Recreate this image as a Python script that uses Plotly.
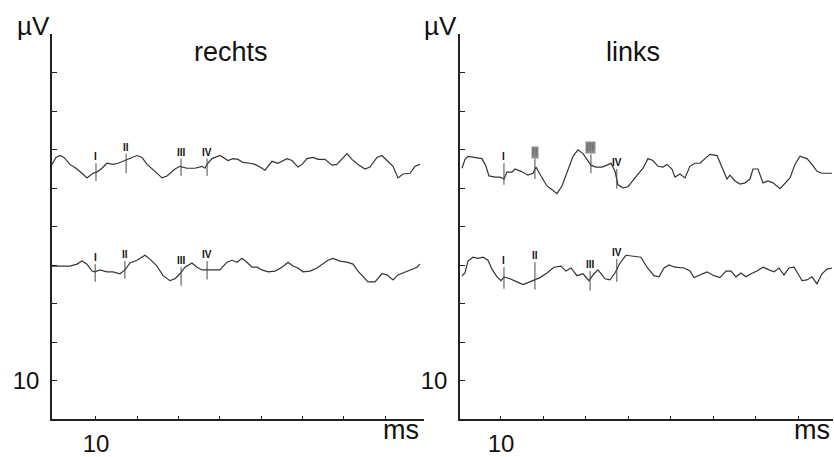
import plotly.graph_objects as go

# ---------------------------------------------------------------
# Evoked potential recordings, time in ms, amplitude in µV
# ---------------------------------------------------------------

# rechts, upper recording
r1_t = [-0.65, 0.31, 1.28, 2.25, 3.70, 5.16, 6.61, 7.82, 9.27, 10.24, 11.45, 12.66, 14.12,
        15.33, 17.02, 18.23, 19.93, 21.14, 22.35, 24.29, 25.98, 27.19, 29.13, 30.34, 32.03,
        33.97, 35.67, 36.39, 36.88, 38.09, 40.02, 41.96, 43.17, 44.38, 45.59, 47.29, 48.50,
        49.71, 50.92, 51.65, 52.62, 54.07, 56.25, 57.46, 58.91, 59.88, 61.09, 62.54, 63.75,
        65.45, 67.14, 68.35, 69.56, 70.77, 71.99, 73.44, 75.13, 76.34, 78.04, 79.25, 80.46,
        81.91, 83.12, 84.33, 86.03, 87.24, 88.45]
r1_uv = [66.2, 68.0, 68.5, 68.0, 66.2, 65.2, 63.9, 62.7, 63.9, 64.2, 65.2, 66.5, 66.2,
         66.5, 67.2, 67.7, 68.5, 68.0, 66.2, 64.4, 62.7, 63.2, 65.0, 65.7, 65.2,
         65.2, 65.7, 65.2, 66.2, 67.7, 68.5, 67.2, 67.7, 67.5, 66.7, 66.5, 66.2,
         65.5, 64.7, 65.7, 67.0, 66.5, 67.7, 67.2, 65.5, 66.2, 67.7, 68.0, 67.5,
         67.5, 66.0, 66.2, 67.7, 69.0, 67.5, 66.2, 65.0, 65.5, 68.0, 68.5, 67.2,
         65.7, 62.7, 63.7, 63.9, 65.7, 66.2]

# rechts, lower recording
r2_t = [-0.65, 1.28, 3.70, 5.40, 6.61, 7.82, 9.03, 9.76, 10.97, 12.66, 14.12, 15.81, 17.02,
        18.23, 19.93, 21.86, 23.08, 24.77, 26.22, 27.92, 29.13, 30.34, 31.55, 33.24, 34.46,
        35.67, 36.88, 38.33, 40.02, 41.72, 42.93, 44.14, 45.35, 46.56, 47.77, 48.98, 50.19,
        51.65, 53.34, 55.04, 56.49, 57.70, 58.91, 60.12, 61.82, 63.51, 64.96, 66.17, 67.38,
        69.08, 70.77, 72.23, 73.44, 74.65, 75.86, 77.55, 79.25, 80.46, 81.91, 83.12, 84.82,
        86.51, 87.72, 88.45]
r2_uv = [39.8, 39.8, 39.8, 40.3, 41.1, 40.3, 38.5, 38.3, 38.8, 38.3, 38.3, 37.8, 38.8,
         40.6, 41.3, 42.6, 41.6, 39.8, 37.3, 36.0, 36.5, 37.8, 39.5, 40.6, 39.5,
         38.8, 38.8, 38.8, 38.8, 40.8, 41.3, 40.8, 41.8, 40.8, 39.5, 39.5, 38.8,
         38.3, 38.5, 39.5, 40.8, 39.8, 39.3, 38.3, 38.5, 39.3, 40.3, 41.3, 41.8,
         41.1, 40.8, 40.3, 38.5, 37.0, 35.7, 35.7, 37.8, 37.5, 36.2, 37.5, 38.3,
         39.0, 39.5, 40.3]

# links, upper recording
l1_t = [0.81, 1.52, 2.22, 3.87, 5.52, 6.46, 7.17, 8.59, 9.76, 10.71, 11.41, 12.59, 13.30,
        14.71, 16.36, 17.54, 18.25, 19.43, 20.84, 22.26, 23.20, 24.38, 25.79, 26.97, 28.15,
        29.33, 30.27, 31.21, 32.39, 33.80, 34.98, 35.93, 36.87, 37.57, 38.75, 39.93, 41.58,
        43.47, 44.65, 45.82, 47.00, 48.18, 49.12, 50.30, 51.01, 52.19, 53.37, 54.54, 55.72,
        56.90, 58.08, 59.26, 60.91, 62.09, 63.26, 63.97, 65.15, 66.33, 67.51, 68.69, 69.39,
        70.57, 71.75, 72.93, 74.11, 75.76, 76.93, 78.11, 79.29, 80.47, 82.12, 83.30, 84.48,
        85.65, 86.83, 88.01]
l1_uv = [65.2, 67.5, 68.3, 68.0, 67.7, 65.7, 63.2, 62.9, 62.9, 62.4, 64.2, 64.2, 65.0,
         64.4, 63.4, 63.9, 65.5, 63.2, 60.6, 59.4, 58.6, 60.6, 65.0, 68.3, 70.0,
         69.0, 67.5, 66.0, 65.5, 65.5, 66.0, 66.5, 64.4, 60.9, 60.1, 60.4, 62.7,
         65.2, 67.7, 67.2, 65.7, 65.5, 66.2, 65.0, 62.9, 63.7, 62.7, 65.7, 66.5,
         66.5, 67.7, 68.8, 68.5, 65.2, 62.4, 63.4, 61.9, 61.1, 61.4, 62.4, 65.0,
         65.0, 61.4, 61.9, 61.4, 59.9, 61.4, 62.7, 66.2, 68.3, 67.7, 66.2, 64.4,
         63.9, 63.9, 63.9]

# links, lower recording
l2_t = [0.81, 1.52, 2.22, 3.40, 4.58, 5.76, 6.94, 7.88, 9.06, 10.00, 10.71, 12.12, 13.77,
        15.19, 16.36, 17.78, 19.19, 20.84, 22.49, 24.14, 25.32, 26.50, 27.91, 29.33, 30.74,
        31.92, 32.86, 34.51, 35.69, 36.87, 38.05, 39.46, 41.11, 43.00, 44.41, 46.06, 47.24,
        48.42, 49.59, 51.01, 53.13, 54.54, 55.49, 56.90, 58.55, 60.20, 61.61, 63.03, 64.21,
        65.39, 66.56, 67.74, 68.92, 70.33, 71.75, 73.16, 74.34, 75.52, 76.70, 77.88, 79.06,
        80.00, 80.94, 82.12, 83.30, 84.48, 85.65, 86.83, 88.01]
l2_uv = [37.3, 38.0, 41.1, 42.1, 41.8, 42.1, 41.3, 39.0, 37.0, 36.0, 37.0, 36.5, 35.7,
         35.0, 35.5, 36.2, 36.8, 38.0, 39.5, 39.8, 38.5, 39.3, 37.3, 37.8, 36.0,
         37.8, 38.8, 36.5, 36.2, 38.0, 40.6, 42.6, 42.3, 42.1, 39.5, 37.3, 37.0,
         39.3, 40.1, 39.5, 39.3, 38.5, 36.8, 37.5, 38.3, 37.3, 36.8, 38.5, 38.5,
         37.0, 38.0, 37.0, 37.8, 38.5, 39.5, 38.8, 38.3, 39.3, 37.5, 39.3, 39.5,
         37.8, 36.0, 36.2, 37.0, 35.2, 37.8, 39.0, 39.3]

# wave markers I-IV: latency (ms) and vertical extent (µV)
wave_names = ["I", "II", "III", "IV"]
r1_wave_t = [10.0, 17.3, 30.6, 36.9]
r1_wave_lo = [61.9, 63.9, 63.2, 63.2]
r1_wave_hi = [66.5, 69.0, 67.7, 67.7]
r2_wave_t = [9.8, 17.0, 30.6, 36.9]
r2_wave_lo = [35.7, 36.5, 34.7, 36.3]
r2_wave_hi = [40.3, 41.1, 39.5, 41.1]
l1_wave_t = [10.7, 18.0, 31.2, 37.3]
l1_wave_lo = [60.9, 62.4, 63.9, 59.9]
l1_wave_hi = [66.5, 67.7, 68.8, 65.0]
l2_wave_t = [10.7, 18.0, 31.0, 37.3]
l2_wave_lo = [33.9, 33.7, 33.4, 35.7]
l2_wave_hi = [39.5, 40.8, 38.5, 41.6]

# axis ticks
y_ticks = [10, 20, 30, 40, 50, 60, 70, 80, 90, 100]
y_ticktext = ["10", "", "", "", "", "", "", "", "", ""]
x_ticks = [10, 20, 30, 40, 50, 60, 70, 80]
x_ticktext = ["10", "", "", "", "", "", "", ""]

W, H = 834, 457
FONT = "Liberation Sans, Arial, sans-serif"
INK = "#111111"
TRACE = "#333333"


def px(x):
    return x / W


def py(y):
    return 1 - y / H


fig = go.Figure()

panels = [
    ("x", "y", False, [(r1_t, r1_uv, r1_wave_t, r1_wave_lo, r1_wave_hi),
                       (r2_t, r2_uv, r2_wave_t, r2_wave_lo, r2_wave_hi)]),
    ("x2", "y2", True, [(l1_t, l1_uv, l1_wave_t, l1_wave_lo, l1_wave_hi),
                        (l2_t, l2_uv, l2_wave_t, l2_wave_lo, l2_wave_hi)]),
]

annotations = []
for xa, ya, smudged, recs in panels:
    for k, (t, uv, wt, wlo, whi) in enumerate(recs):
        fig.add_trace(go.Scatter(x=t, y=uv, xaxis=xa, yaxis=ya, mode="lines",
                                 line=dict(color=TRACE, width=1.2),
                                 hoverinfo="skip", showlegend=False))
        seg_x, seg_y = [], []
        for tt, lo, hi in zip(wt, wlo, whi):
            seg_x += [tt, tt, None]
            seg_y += [lo, hi, None]
        fig.add_trace(go.Scatter(x=seg_x, y=seg_y, xaxis=xa, yaxis=ya, mode="lines",
                                 line=dict(color="#4a4a4a", width=1),
                                 hoverinfo="skip", showlegend=False))
        for name, tt, hi in zip(wave_names, wt, whi):
            # the II/III labels of the upper "links" recording are smudged grey
            blob = smudged and k == 0 and name in ("II", "III")
            annotations.append(dict(
                x=tt, y=hi, xref=xa, yref=ya, text="<b>%s</b>" % name,
                showarrow=False, xanchor="center", yanchor="bottom",
                font=dict(family=FONT, size=10, color="#707070" if blob else "#111111"),
                bgcolor="#8c8c8c" if blob else None, borderpad=0))

axis_common = dict(showline=True, linecolor="#222222", linewidth=1.6,
                   ticks="inside", tickcolor="#222222", tickwidth=1,
                   showgrid=False, zeroline=False, fixedrange=True,
                   tickfont=dict(family=FONT, size=24, color=INK))

y_dom = [py(428.7), py(35)]
fig.update_layout(
    width=W, height=H,
    margin=dict(l=0, r=0, t=0, b=0),
    paper_bgcolor="white", plot_bgcolor="white",
    xaxis=dict(domain=[px(52), px(424)], range=[-0.65, 89.42], anchor="y",
               tickvals=x_ticks, ticktext=x_ticktext, ticklen=4,
               ticklabelstandoff=2, **axis_common),
    yaxis=dict(domain=y_dom, range=[0, 100], anchor="x",
               tickvals=y_ticks, ticktext=y_ticktext, ticklen=5,
               ticklabelstandoff=6, **axis_common),
    xaxis2=dict(domain=[px(460), px(833)], range=[0.34, 88.25], anchor="y2",
                tickvals=x_ticks, ticktext=x_ticktext, ticklen=4,
                ticklabelstandoff=2, **axis_common),
    yaxis2=dict(domain=y_dom, range=[0, 100], anchor="x2",
                tickvals=y_ticks, ticktext=y_ticktext, ticklen=5,
                ticklabelstandoff=6, **axis_common),
)

# panel titles and unit labels
for text, x, y, size, xanchor, yanchor in [
    ("rechts", 231, 53, 27, "center", "middle"),
    ("links", 633, 53, 27, "center", "middle"),
    ("µV", 33, 9, 26, "center", "top"),
    ("µV", 440, 9, 26, "center", "top"),
    ("ms", 421, 457, 27, "right", "bottom"),
    ("ms", 832, 457, 27, "right", "bottom"),
]:
    annotations.append(dict(x=px(x), y=py(y), xref="paper", yref="paper", text=text,
                            showarrow=False, xanchor=xanchor, yanchor=yanchor,
                            font=dict(family=FONT, size=size, color=INK)))

fig.update_layout(annotations=annotations)
fig.write_html("out.html")
